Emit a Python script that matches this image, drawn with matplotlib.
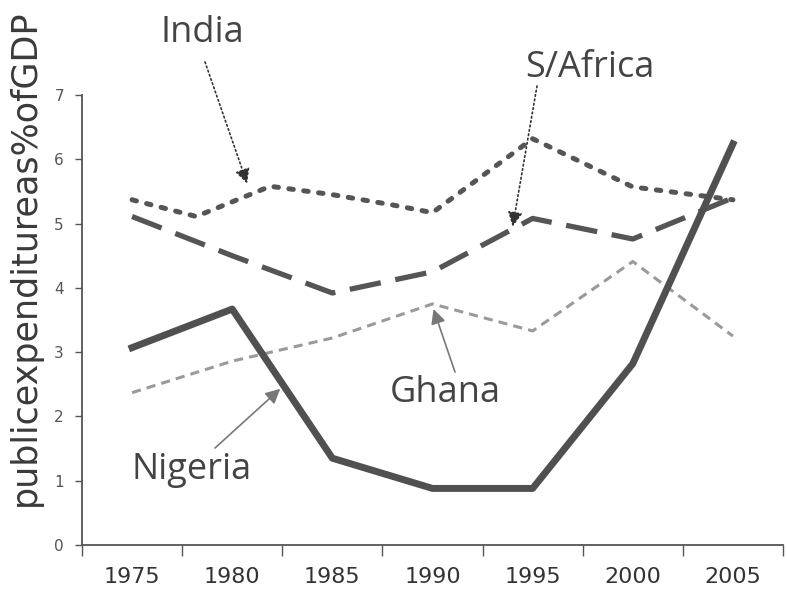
import numpy as np
import matplotlib.pyplot as plt
from matplotlib.ticker import FixedLocator

plt.rcParams['font.family'] = ['DejaVu Sans']

# data (public expenditure as % of GDP)
years = [1975, 1980, 1985, 1990, 1995, 2000, 2005]
nigeria = [3.07, 3.67, 1.35, 0.88, 0.88, 2.82, 6.24]
ghana = [2.37, 2.86, 3.22, 3.75, 3.33, 4.41, 3.25]
safrica = [5.11, 4.50, 3.92, 4.25, 5.08, 4.76, 5.40]
india_years = [1975, 1978.2, 1981.9, 1985, 1988, 1990, 1995, 2000, 2005]
india = [5.37, 5.11, 5.58, 5.45, 5.29, 5.17, 6.32, 5.57, 5.37]

fig = plt.figure(figsize=(7.87, 5.9), dpi=100)
ax = fig.add_axes([82 / 787, 1 - 545 / 590, 701 / 787, 450 / 590])

ax.plot(india_years, india, color='#555555', lw=3.6, linestyle=(0, (0.9, 2.1)),
        dash_capstyle='round')
ax.plot(years, safrica, color='#555555', lw=3.8, linestyle=(0, (6, 2.8)))
ax.plot(years, ghana, color='#9a9a9a', lw=2.2, linestyle=(0, (3, 2)))
ax.plot(years, nigeria, color='#505050', lw=5)

ax.set_xlim(1972.5, 2007.5)
ax.set_ylim(0, 7)

# category-style x axis: tick marks between years, labels centred
ax.xaxis.set_major_locator(FixedLocator(np.arange(1972.5, 2008, 5)))
ax.xaxis.set_minor_locator(FixedLocator(years))
ax.set_xticklabels([])
ax.set_xticklabels([str(y) for y in years], minor=True)
ax.tick_params(axis='x', which='major', direction='out', length=8, width=1, color='#555555')
ax.tick_params(axis='x', which='minor', length=0, pad=16, labelsize=16, labelcolor='#333333')
ax.set_yticks(range(0, 8))
ax.tick_params(axis='y', direction='out', length=5, width=1, color='#555555',
               pad=8, labelsize=11, labelcolor='#555555')

for s in ['top', 'right']:
    ax.spines[s].set_visible(False)
for s in ['left', 'bottom']:
    ax.spines[s].set_color('#555555')
    ax.spines[s].set_linewidth(1.3)

fig.text(25 / 787, 1 - 258 / 590, 'publicexpenditureas%ofGDP', rotation=90,
         ha='center', va='center', fontsize=25.2, color='#3a3a3a')

# labels with arrows
H = 590
labels = [
    ('India', (202, 33), (205, 62), (1980.75, 5.62), '#333333', ':'),
    ('S/Africa', (590, 68), (537, 86), (1994.0, 4.95), '#333333', ':'),
    ('Ghana', (445, 393), (455, 372), (1990.05, 3.67), '#777777', '-'),
    ('Nigeria', (192, 470), (215, 448), (1982.4, 2.43), '#777777', '-'),
]
for name, tpos, tail, head, col, ls in labels:
    fig.text(tpos[0] / 787, 1 - tpos[1] / H, name, ha='center', va='center',
             fontsize=26, color='#444444', family='Open Sans')
    ax.annotate('', xy=head, xycoords='data', xytext=(tail[0], H - tail[1]),
                textcoords='figure pixels',
                arrowprops=dict(arrowstyle='-|>', color=col, lw=1.2, linestyle=ls,
                                mutation_scale=22, shrinkA=0, shrinkB=0))

fig.savefig('out.png', dpi=100)
